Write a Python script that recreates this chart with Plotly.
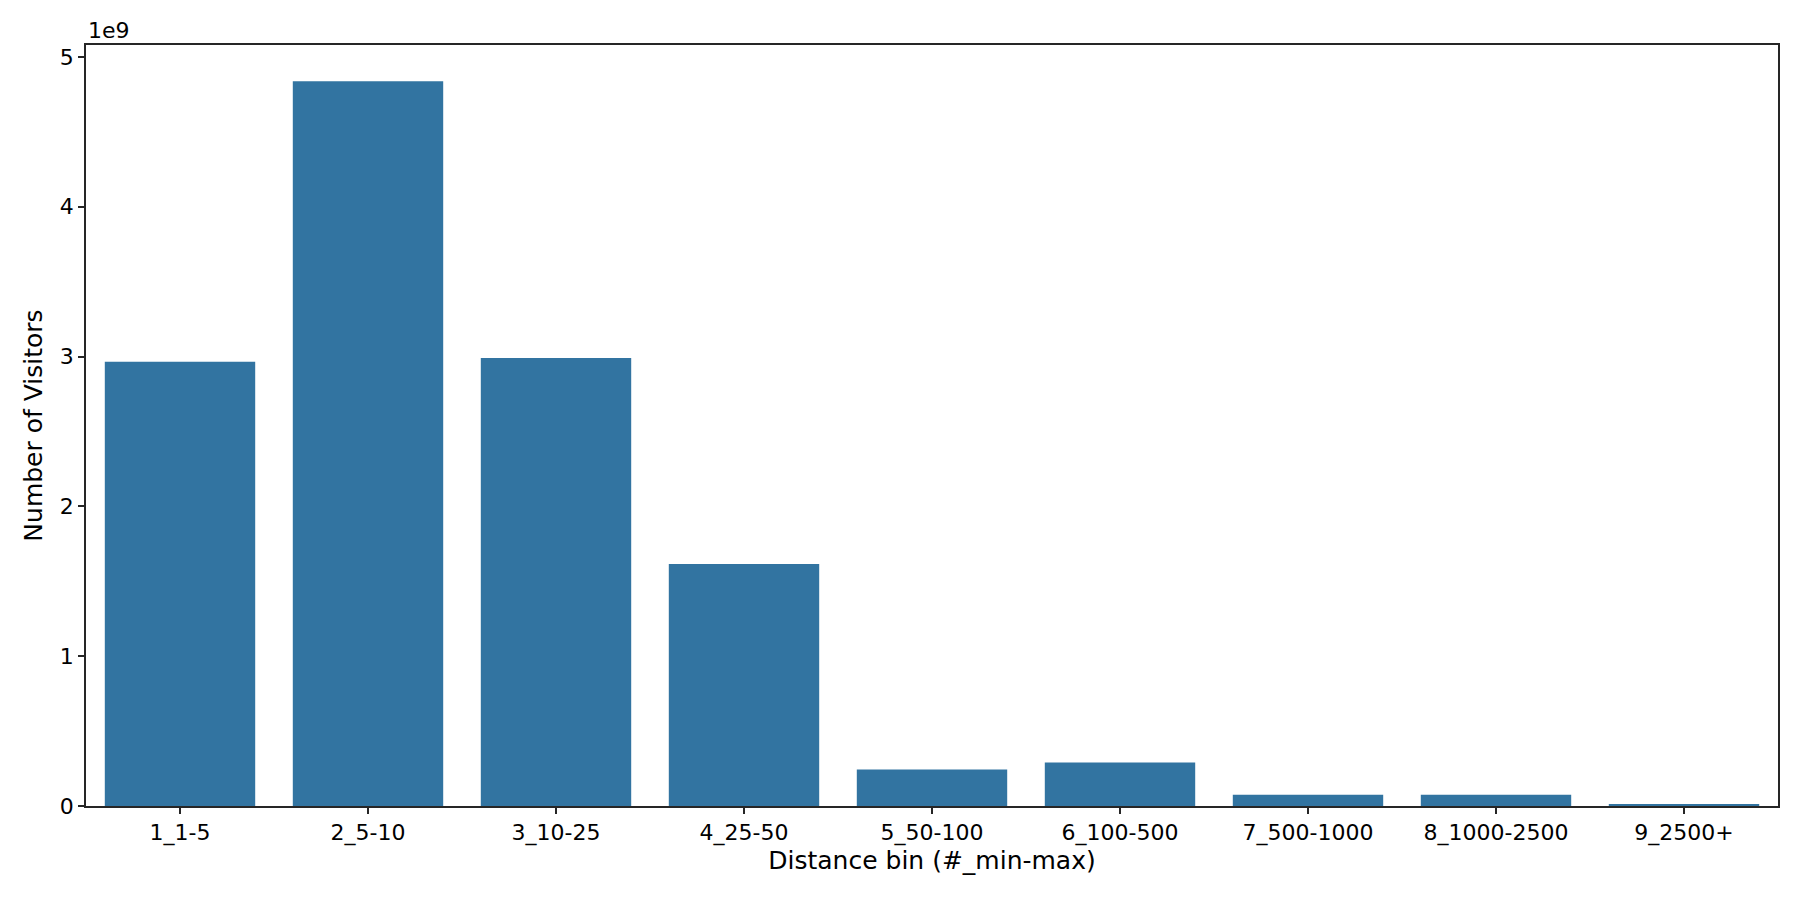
import plotly.graph_objects as go

# distance bins and visitor counts
bins = ["1_1-5", "2_5-10", "3_10-25", "4_25-50", "5_50-100",
        "6_100-500", "7_500-1000", "8_1000-2500", "9_2500+"]
visitors = [2.965e9, 4.838e9, 2.990e9, 1.615e9, 0.243e9,
            0.290e9, 0.075e9, 0.075e9, 0.009e9]

y_ticks = [0, 1e9, 2e9, 3e9, 4e9, 5e9]
y_tick_labels = ["0", "1", "2", "3", "4", "5"]

font = "DejaVu Sans"
axis_col = "#262626"

fig = go.Figure(go.Bar(
    x=bins,
    y=visitors,
    marker=dict(color="#3274a1", line=dict(width=0)),
    hoverinfo="x+y"
))

# page body has an 8px margin, so the figure is a bit smaller than the window
fig.update_layout(
    width=1792, height=892,
    margin={"l": 78, "r": 22, "t": 37, "b": 94},
    paper_bgcolor="white", plot_bgcolor="white",
    bargap=0.2,
    showlegend=False,
    font=dict(family=font, size=22, color="black"),
)

fig.update_xaxes(
    type="category",
    range=[-0.5, 8.5],
    showline=True, linecolor=axis_col, linewidth=1.6, mirror=True,
    ticks="outside", ticklen=6, tickwidth=1.6, tickcolor=axis_col,
    showgrid=False, zeroline=False,
    tickfont=dict(size=22),
    title=dict(text="Distance bin (#_min-max)", font=dict(size=25), standoff=5),
)

fig.update_yaxes(
    range=[0, 5.08e9],
    tickvals=y_ticks, ticktext=y_tick_labels,
    showline=True, linecolor=axis_col, linewidth=1.6, mirror=True,
    ticks="outside", ticklen=6, tickwidth=1.6, tickcolor=axis_col,
    showgrid=False, zeroline=False,
    tickfont=dict(size=22),
    title=dict(text="Number of Visitors", font=dict(size=25), standoff=10),
)

# matplotlib-style offset label
fig.add_annotation(
    text="1e9", xref="paper", yref="paper", x=0, y=1,
    xanchor="left", yanchor="bottom", showarrow=False,
    font=dict(size=22, family=font, color="black"), yshift=0
)

fig.write_html("out.html")
